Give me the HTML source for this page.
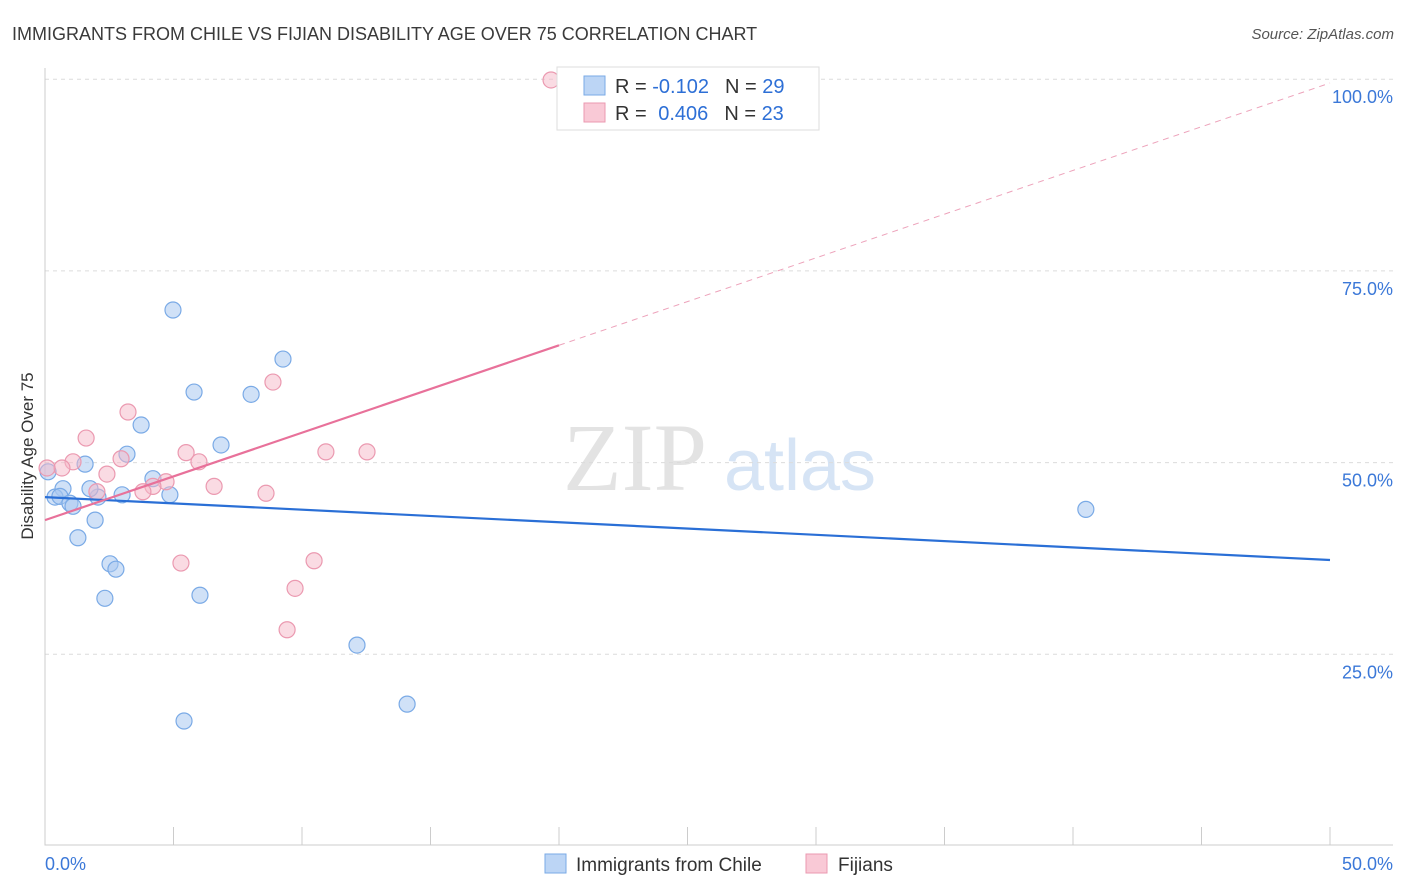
<!DOCTYPE html>
<html><head><meta charset="utf-8"><style>
body{margin:0;background:#fff;font-family:"Liberation Sans",sans-serif}
svg{display:block}
</style></head><body>
<svg id="chart" width="1406" height="892" xmlns="http://www.w3.org/2000/svg">
<text x="12" y="40" font-size="18" fill="#3a3a3a">IMMIGRANTS FROM CHILE VS FIJIAN DISABILITY AGE OVER 75 CORRELATION CHART</text>
<text x="1394" y="39" font-size="15" fill="#555" text-anchor="end" font-style="italic">Source: ZipAtlas.com</text>
<text transform="translate(33,456) rotate(-90)" font-size="17" fill="#333" text-anchor="middle">Disability Age Over 75</text>
<g>
<text x="635" y="490" font-size="96" fill="#e3e3e3" font-family="Liberation Serif,serif" text-anchor="middle">ZIP</text>
<text x="800" y="490" font-size="72" fill="#d6e4f5" text-anchor="middle">atlas</text>
</g>
<g id="grid"></g><g id="axes"></g><g id="marks"></g>
<g>
<rect x="557" y="67" width="262" height="63" fill="#fff" stroke="#ddd"/>
<rect x="584" y="76" width="21" height="19" fill="#bcd5f5" stroke="#7aaae6"/>
<rect x="584" y="103" width="21" height="19" fill="#f9c9d6" stroke="#eb99b0"/>
<text x="615" y="93" font-size="20" fill="#333">R = <tspan fill="#2d6fd6">-0.102</tspan><tspan dx="16">N = </tspan><tspan fill="#2d6fd6">29</tspan></text>
<text x="615" y="120" font-size="20" fill="#333">R = <tspan fill="#2d6fd6" dx="6">0.406</tspan><tspan dx="16">N = </tspan><tspan fill="#2d6fd6">23</tspan></text>
</g>
<g>
<rect x="545" y="854" width="21" height="19" fill="#bcd5f5" stroke="#7aaae6"/>
<text x="576" y="871" font-size="19" fill="#333">Immigrants from Chile</text>
<rect x="806" y="854" width="21" height="19" fill="#f9c9d6" stroke="#eb99b0"/>
<text x="838" y="871" font-size="19" fill="#333">Fijians</text>
</g>
</svg>
<script>
const blueX=[4.98,9.26,5.80,8.02,3.74,3.19,6.85,1.56,4.20,4.86,3.00,2.06,1.75,0.70,0.39,0.58,0.97,1.09,1.95,1.28,2.53,2.76,2.33,6.03,12.14,14.09,5.41,40.5,0.12];
const blueY=[69.9,63.5,59.2,58.9,54.9,51.1,52.3,49.8,47.9,45.8,45.8,45.5,46.6,46.6,45.5,45.6,44.7,44.3,42.5,40.2,36.8,36.1,32.3,32.7,26.2,18.5,16.3,43.9,48.8];
const pinkX=[19.69,8.87,3.23,1.60,5.49,10.93,12.53,2.96,5.99,1.09,0.66,0.08,2.41,4.71,4.20,3.81,6.58,2.02,8.60,5.29,10.47,9.73,9.42];
const pinkY=[99.9,60.5,56.6,53.2,51.3,51.4,51.4,50.5,50.1,50.1,49.3,49.3,48.5,47.5,46.9,46.2,46.9,46.2,46.0,36.9,37.2,33.6,28.2];
const blueTrend=[45.5,37.3];
const pinkTrend=[42.5,99.5];
const yTicks=[25,50,75,100];
const yTickLabels=["25.0%","50.0%","75.0%","100.0%"];
const xTicks=[0,5,10,15,20,25,30,35,40,45,50];
const NS="http://www.w3.org/2000/svg";
const sx=v=>45+v*25.7, sy=v=>846-v*7.668;
function mk(p,t,a){const e=document.createElementNS(NS,t);for(const k in a)e.setAttribute(k,a[k]);document.getElementById(p).appendChild(e);return e;}
yTicks.forEach((t,i)=>{
 const g=mk('grid','line',{x1:45,x2:1393,y1:sy(t),y2:sy(t),stroke:'#dcdcdc','stroke-dasharray':'4,4'});
 
 
 const l=mk('axes','text',{x:1393,y:sy(t)+24,'font-size':18,fill:'#3b78d8','text-anchor':'end'});
 l.textContent=yTickLabels[i];
 
 
});
const ax=mk('axes','path',{d:'M45,68V845H1393',fill:'none',stroke:'#ccc'});


xTicks.forEach(t=>{
 const k=mk('axes','line',{x1:sx(t),x2:sx(t),y1:827,y2:845,stroke:'#ccc'});
 
 
});
[["0.0%",45,'start'],["50.0%",1393,'end']].forEach(([s,x,a])=>{
 const l=mk('axes','text',{x:x,y:870,'font-size':18,fill:'#3b78d8','text-anchor':a});
 l.textContent=s;
 
 
});
blueX.forEach((x,i)=>{
 const c=mk('marks','circle',{cx:sx(x),cy:sy(blueY[i]),r:8,fill:'rgba(169,200,240,0.55)',stroke:'#7aaae6','stroke-width':1.2});
 
 
});
pinkX.forEach((x,i)=>{
 const c=mk('marks','circle',{cx:sx(x),cy:sy(pinkY[i]),r:8,fill:'rgba(245,184,200,0.5)',stroke:'#eb99b0','stroke-width':1.2});
 
 
});
const bt=mk('marks','line',{x1:sx(0),y1:sy(blueTrend[0]),x2:sx(50),y2:sy(blueTrend[1]),stroke:'#2a6fd6','stroke-width':2.2});


const pv=x=>pinkTrend[0]+(pinkTrend[1]-pinkTrend[0])*x/50;
const ps=mk('marks','line',{x1:sx(0),y1:sy(pv(0)),x2:sx(20),y2:sy(pv(20)),stroke:'#e8719a','stroke-width':2.2});


const pd=mk('marks','line',{x1:sx(20),y1:sy(pv(20)),x2:sx(50),y2:sy(pv(50)),stroke:'#eda3bb','stroke-width':1,'stroke-dasharray':'6,5'});


</script>
</body></html>
